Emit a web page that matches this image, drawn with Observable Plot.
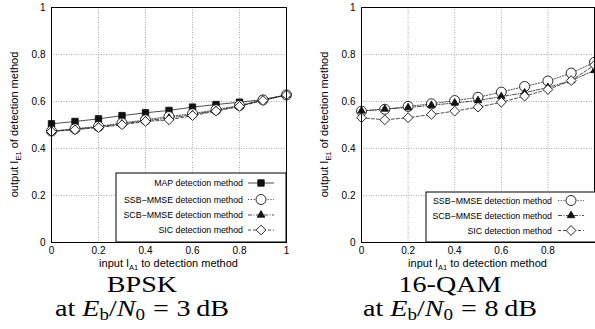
<!DOCTYPE html>
<html><head><meta charset="utf-8">
<script src="https://cdn.jsdelivr.net/npm/d3@7"></script>
<script src="https://cdn.jsdelivr.net/npm/@observablehq/plot@0.6"></script>
<style>
body{margin:0;background:#fff;}
#wrap{position:relative;width:595px;height:329px;overflow:hidden;background:#fff;}
.panel{position:absolute;top:0;}
.cap{position:absolute;font-family:"Liberation Serif","Times New Roman",serif;font-size:24px;color:#000;text-align:center;white-space:nowrap;line-height:1;transform:scaleX(1.17);}
.cap i{font-style:italic;}
.cap sub{font-size:68%;vertical-align:-0.22em;font-style:normal;line-height:0;}
.cap .eq{margin:0 0.28em;}
</style>
</head><body>
<div id="wrap"></div>
<script>
// ---------- data ----------
const xs = [0, 0.1, 0.2, 0.3, 0.4, 0.5, 0.6, 0.7, 0.8, 0.9, 1.0];
const bpskMAP = [0.505, 0.515, 0.526, 0.540, 0.552, 0.562, 0.576, 0.587, 0.597, 0.608, 0.628];
const bpskSSB = [0.474, 0.484, 0.494, 0.508, 0.522, 0.536, 0.548, 0.565, 0.583, 0.607, 0.628];
const bpskSCB = [0.473, 0.482, 0.492, 0.505, 0.518, 0.530, 0.544, 0.562, 0.581, 0.606, 0.628];
const bpskSIC = [0.472, 0.480, 0.489, 0.501, 0.515, 0.522, 0.540, 0.559, 0.579, 0.604, 0.628];
const qamSSB = [0.559, 0.567, 0.579, 0.590, 0.604, 0.618, 0.640, 0.664, 0.687, 0.721, 0.767];
const qamSCB = [0.560, 0.568, 0.574, 0.584, 0.594, 0.604, 0.621, 0.637, 0.660, 0.689, 0.732];
const qamSIC = [0.531, 0.522, 0.531, 0.545, 0.559, 0.576, 0.597, 0.623, 0.651, 0.689, 0.755];
const seriesNames = ["MAP detection method", "SSB\u2212MMSE detection method", "SCB\u2212MMSE detection method", "SIC detection method"];
const xTicksLeft = [0, 0.2, 0.4, 0.6, 0.8, 1];
const xTicksRight = [0, 0.2, 0.4, 0.6, 0.8];
const yTicks = [0, 0.2, 0.4, 0.6, 0.8, 1];
const captionsTop = ["BPSK", "16-QAM"];
const ebn0 = ["3", "8"];

const fmt = d => (d === 0 ? "0" : d === 1 ? "1" : d.toFixed(1));

// ---------- styles per series ----------
const styles = {
  [seriesNames[0]]: {symbol: "square", r: 3.6, fill: "#111", dash: null},
  [seriesNames[1]]: {symbol: "circle", r: 5, fill: "#fff", dash: "1.2,1.6"},
  [seriesNames[2]]: {symbol: "triangle", r: 2.8, fill: "#111", dash: "4,1.5,1,1.5"},
  [seriesNames[3]]: {symbol: "diamond2", r: 4.4, fill: "#fff", dash: "3,2"}
};
const d3sym = {square: d3.symbolSquare, circle: d3.symbolCircle, triangle: d3.symbolTriangle, diamond2: d3.symbolDiamond2};

function rows(name, ys) { return xs.map((x, i) => ({series: name, x, y: ys[i]})); }

function panel({data, names, width, marginLeft, marginRight, xTicks, legend}) {
  const marks = [
    Plot.gridX(xTicks, {stroke: "#888", strokeOpacity: 1, strokeWidth: 0.7, strokeDasharray: "1,1.5"}),
    Plot.gridY(yTicks, {stroke: "#888", strokeOpacity: 1, strokeWidth: 0.7, strokeDasharray: "1,1.5"}),
    Plot.axisX(xTicks, {tickSize: 0, tickPadding: 4, label: null, fontSize: 10, tickFormat: fmt}),
    Plot.axisY(yTicks, {tickSize: 0, tickPadding: 6, label: null, fontSize: 10, tickFormat: fmt})
  ];
  for (const n of names) {
    const st = styles[n];
    const d = data.filter(r => r.series === n);
    marks.push(Plot.line(d, {x: "x", y: "y", stroke: "#222", strokeWidth: 0.8, strokeDasharray: st.dash}));
  }
  for (const n of names) {
    const st = styles[n];
    const d = data.filter(r => r.series === n);
    marks.push(Plot.dot(d, {x: "x", y: "y", symbol: () => st.symbol, r: st.r, fill: st.fill, stroke: "#111", strokeWidth: 0.9}));
  }
  marks.push(Plot.frame({stroke: "#000", strokeWidth: 1}));
  const svg = Plot.plot({
    width, height: 275,
    marginLeft, marginRight, marginTop: 7, marginBottom: 33,
    x: {domain: [0, 1]},
    y: {domain: [0, 1]},
    symbol: {type: "identity"},
    style: {fontFamily: "'Liberation Sans', Arial, sans-serif", fontSize: "10px", background: "transparent", color: "#000", overflow: "visible"},
    marks
  });
  const s = d3.select(svg);
  const left = marginLeft, right = width - marginRight;
  // x axis title with subscript
  const xt = s.append("text").attr("x", (left + right) / 2).attr("y", 267).attr("text-anchor", "middle")
    .attr("font-size", 11).attr("fill", "#000");
  xt.append("tspan").text("input I");
  xt.append("tspan").attr("font-size", 7.5).attr("dy", 3).text("A1");
  xt.append("tspan").attr("dy", -3).text(" to detection method");
  // y axis title
  const yt = s.append("text").attr("transform", `translate(${left - 33},124.5) rotate(-90)`).attr("text-anchor", "middle")
    .attr("font-size", 11).attr("fill", "#000");
  yt.append("tspan").text("output I");
  yt.append("tspan").attr("font-size", 7.5).attr("dy", 3).text("E1");
  yt.append("tspan").attr("dy", -3).text(" of detection method");
  // legend
  const g = s.append("g");
  g.append("rect").attr("x", legend.x0).attr("y", legend.y0).attr("width", legend.x1 - legend.x0)
    .attr("height", legend.y1 - legend.y0).attr("fill", "#fff").attr("stroke", "#000").attr("stroke-width", 1);
  names.forEach((n, i) => {
    const st = styles[n];
    const y = legend.rows[i];
    g.append("text").attr("x", legend.textEnd).attr("y", y).attr("dy", "0.35em").attr("text-anchor", "end")
      .attr("font-size", 8.8).attr("fill", "#000").text(n);
    g.append("line").attr("x1", legend.lineX0).attr("x2", legend.lineX1).attr("y1", y).attr("y2", y)
      .attr("stroke", "#222").attr("stroke-width", 0.8).attr("stroke-dasharray", st.dash);
    g.append("path").attr("transform", `translate(${(legend.lineX0 + legend.lineX1) / 2},${y})`)
      .attr("d", d3.symbol(d3sym[st.symbol], Math.PI * st.r * st.r)())
      .attr("fill", st.fill).attr("stroke", "#111").attr("stroke-width", 0.9);
  });
  return svg;
}

const wrap = document.getElementById("wrap");

const leftData = [
  ...rows(seriesNames[0], bpskMAP), ...rows(seriesNames[1], bpskSSB),
  ...rows(seriesNames[2], bpskSCB), ...rows(seriesNames[3], bpskSIC)
];
const leftSvg = panel({
  data: leftData, names: seriesNames, width: 300, marginLeft: 51, marginRight: 14, xTicks: xTicksLeft,
  legend: {x0: 116, x1: 286, y0: 173, y1: 242, textEnd: 243, lineX0: 248, lineX1: 274, rows: [183, 199.5, 215, 230]}
});
const d1 = document.createElement("div"); d1.className = "panel"; d1.style.left = "0px"; d1.appendChild(leftSvg); wrap.appendChild(d1);

const rightNames = seriesNames.slice(1);
const rightData = [
  ...rows(seriesNames[1], qamSSB), ...rows(seriesNames[2], qamSCB), ...rows(seriesNames[3], qamSIC)
];
const rightSvg = panel({
  data: rightData, names: rightNames, width: 295, marginLeft: 61, marginRight: 1, xTicks: xTicksRight,
  legend: {x0: 126, x1: 296, y0: 192, y1: 242, textEnd: 252, lineX0: 258, lineX1: 284, rows: [200.5, 215.5, 230.5]}
});
const d2 = document.createElement("div"); d2.className = "panel"; d2.style.left = "300px"; d2.appendChild(rightSvg); wrap.appendChild(d2);

// captions
const centers = [142, 450];
captionsTop.forEach((t, i) => {
  const c1 = document.createElement("div"); c1.className = "cap";
  c1.style.left = (centers[i] - 100) + "px"; c1.style.width = "200px"; c1.style.top = "272px";
  c1.textContent = t; wrap.appendChild(c1);
  const c2 = document.createElement("div"); c2.className = "cap";
  c2.style.left = (centers[i] - 110) + "px"; c2.style.width = "220px"; c2.style.top = "296px";
  c2.innerHTML = `at <i>E</i><sub>b</sub>/<i>N</i><sub>0</sub><span class="eq">=</span>${ebn0[i]}&#8201;dB`;
  wrap.appendChild(c2);
});
</script>
</body></html>
